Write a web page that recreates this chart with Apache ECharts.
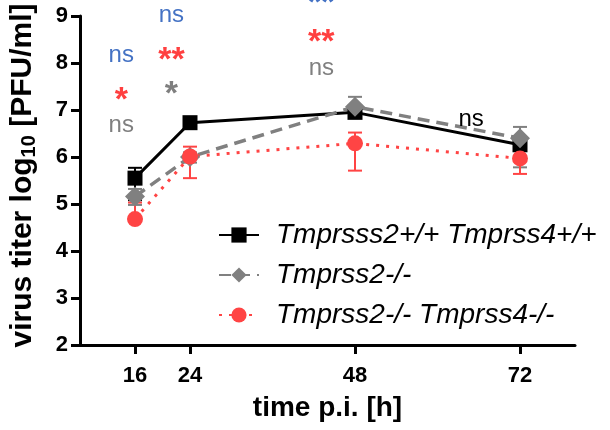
<!DOCTYPE html>
<html>
<head>
<meta charset="utf-8">
<script src="https://cdn.jsdelivr.net/npm/echarts@6/dist/echarts.min.js"></script>
<style>
html, body { margin: 0; padding: 0; background: #fff; }
#chart { width: 610px; height: 430px; }
</style>
</head>
<body>
<div id="chart"></div>
<script>
// time points (h p.i.)
var hours = [16, 24, 48, 72];
var xTicks = [16, 24, 48, 72];

// log10 PFU/ml, mean and error bar ends
var wtMean = [5.55, 6.73, 6.95, 6.26];
var wtLow  = [5.08, 6.66, 6.85, 6.15];
var wtHigh = [5.77, 6.80, 7.05, 6.37];

var ko2Mean = [5.16, 6.00, 7.07, 6.40];
var ko2Low  = [4.98, 5.88, 6.86, 5.78];
var ko2High = [5.32, 6.10, 7.28, 6.64];

var dkoMean = [4.68, 6.01, 6.29, 5.97];
var dkoLow  = [null, 5.55, 5.71, 5.64];
var dkoHigh = [5.03, 6.22, 6.52, 6.15];

var seriesNames = ['Tmprsss2+/+ Tmprss4+/+', 'Tmprss2-/-', 'Tmprss2-/- Tmprss4-/-'];

// significance marks
var annoText = ['ns', '*', 'ns', 'ns', '**', '*', '**', '**', 'ns', 'ns'];
var annoX    = [14.0, 14.0, 14.0, 21.3, 21.3, 21.3, 43.1, 43.1, 43.1, 64.9];
var annoY    = [8.17, 7.21, 6.68, 9.02, 8.04, 7.32, 9.26, 8.43, 7.88, 6.81];
var annoCmp  = ['ko2_dko', 'dko_wt', 'ko2_wt', 'ko2_dko', 'dko_wt', 'ko2_wt', 'ko2_dko', 'dko_wt', 'ko2_wt', 'wt_ko2'];

var FONT = '"Liberation Sans", Arial, sans-serif';
var cmpColor = { ko2_dko: '#4472c4', dko_wt: '#ff4040', ko2_wt: '#7f7f7f', wt_ko2: '#000000' };

function errData(mean, low, high) {
    return hours.map(function (h, i) { return [h, low[i], high[i], mean[i]]; });
}

function errSeries(name, mean, low, high, color) {
    return {
        name: name + ' SEM',
        type: 'custom',
        data: errData(mean, low, high),
        encode: { x: 0, y: [1, 2, 3] },
        silent: true,
        renderItem: function (params, api) {
            var x = api.value(0);
            var lo = api.value(1), hi = api.value(2), m = api.value(3);
            var pM = api.coord([x, m]);
            var pH = api.coord([x, hi]);
            var children = [];
            var cap = 7;
            var st = { stroke: color, lineWidth: 2 };
            children.push({ type: 'line', shape: { x1: pM[0], y1: pM[1], x2: pH[0], y2: pH[1] }, style: st });
            children.push({ type: 'line', shape: { x1: pH[0] - cap, y1: pH[1], x2: pH[0] + cap, y2: pH[1] }, style: st });
            if (lo !== null && !isNaN(lo)) {
                var pL = api.coord([x, lo]);
                children.push({ type: 'line', shape: { x1: pM[0], y1: pM[1], x2: pL[0], y2: pL[1] }, style: st });
                children.push({ type: 'line', shape: { x1: pL[0] - cap, y1: pL[1], x2: pL[0] + cap, y2: pL[1] }, style: st });
            }
            return { type: 'group', children: children };
        }
    };
}

function pairs(ys) {
    return hours.map(function (h, i) { return [h, ys[i]]; });
}

var chart = echarts.init(document.getElementById('chart'));

var option = {
    animation: false,
    textStyle: { fontFamily: FONT },
    grid: { left: 79, right: 35, top: 16, bottom: 85 },
    legend: {
        orient: 'vertical',
        left: 213,
        top: 216,
        itemWidth: 40,
        itemHeight: 19,
        itemGap: 12,
        data: seriesNames,
        textStyle: { fontFamily: FONT, fontSize: 28, fontStyle: 'italic', color: '#000', padding: [0, 0, 0, 12] }
    },
    xAxis: {
        type: 'value',
        min: 8,
        max: 80,
        name: 'time p.i. [h]',
        nameLocation: 'middle',
        nameGap: 49,
        nameTextStyle: { fontFamily: FONT, fontSize: 28, fontWeight: 'bold', color: '#000' },
        splitLine: { show: false },
        axisLine: { lineStyle: { color: '#000', width: 3 } },
        axisTick: { show: true, length: 9, lineStyle: { color: '#000', width: 3 }, customValues: xTicks },
        axisLabel: { fontFamily: FONT, fontSize: 22, fontWeight: 'bold', color: '#000', margin: 20, customValues: xTicks }
    },
    yAxis: {
        type: 'value',
        min: 2,
        max: 9,
        interval: 1,
        name: '{a|virus titer log}{s|10}{a| [PFU/ml]}',
        nameLocation: 'middle',
        nameGap: 41,
        nameTextStyle: {
            color: '#000',
            padding: [0, 0, 0, 10],
            rich: {
                a: { fontFamily: FONT, fontSize: 30, fontWeight: 'bold', color: '#000', lineHeight: 32 },
                s: { fontFamily: FONT, fontSize: 20, fontWeight: 'bold', color: '#000', lineHeight: 32, verticalAlign: 'bottom', padding: [8, 0, 0, 0] }
            }
        },
        splitLine: { show: false },
        axisLine: { show: true, lineStyle: { color: '#000', width: 3 } },
        axisTick: { show: true, length: 9, lineStyle: { color: '#000', width: 3 } },
        axisLabel: { fontFamily: FONT, fontSize: 22, fontWeight: 'bold', color: '#000', margin: 12 }
    },
    series: [
        errSeries(seriesNames[0], wtMean, wtLow, wtHigh, '#000'),
        {
            name: seriesNames[0],
            type: 'line',
            data: pairs(wtMean),
            symbol: 'rect',
            symbolSize: 15,
            itemStyle: { color: '#000' },
            lineStyle: { color: '#000', width: 3 }
        },
        errSeries(seriesNames[1], ko2Mean, ko2Low, ko2High, '#808080'),
        {
            name: seriesNames[1],
            type: 'line',
            data: pairs(ko2Mean),
            symbol: 'diamond',
            symbolSize: 20,
            itemStyle: { color: '#808080' },
            lineStyle: { color: '#808080', width: 3.5, type: [12, 7] }
        },
        errSeries(seriesNames[2], dkoMean, dkoLow, dkoHigh, '#ff4444'),
        {
            name: seriesNames[2],
            type: 'line',
            data: pairs(dkoMean),
            symbol: 'circle',
            symbolSize: 16,
            itemStyle: { color: '#ff4444' },
            lineStyle: { color: '#ff4444', width: 3, type: [3, 7] }
        },
        {
            type: 'scatter',
            silent: true,
            clip: false,
            symbolSize: 0,
            z: 5,
            itemStyle: { opacity: 1 },
            data: annoText.map(function (t, i) {
                var isStar = t.charAt(0) === '*';
                return {
                    value: [annoX[i], annoY[i]],
                    label: {
                        show: true,
                        position: 'inside',
                        formatter: t,
                        fontFamily: FONT,
                        fontSize: isStar ? 34 : 24,
                        fontWeight: isStar ? 'bold' : 'normal',
                        color: cmpColor[annoCmp[i]],
                        opacity: 1
                    }
                };
            })
        }
    ]
};

chart.setOption(option);
</script>
</body>
</html>
